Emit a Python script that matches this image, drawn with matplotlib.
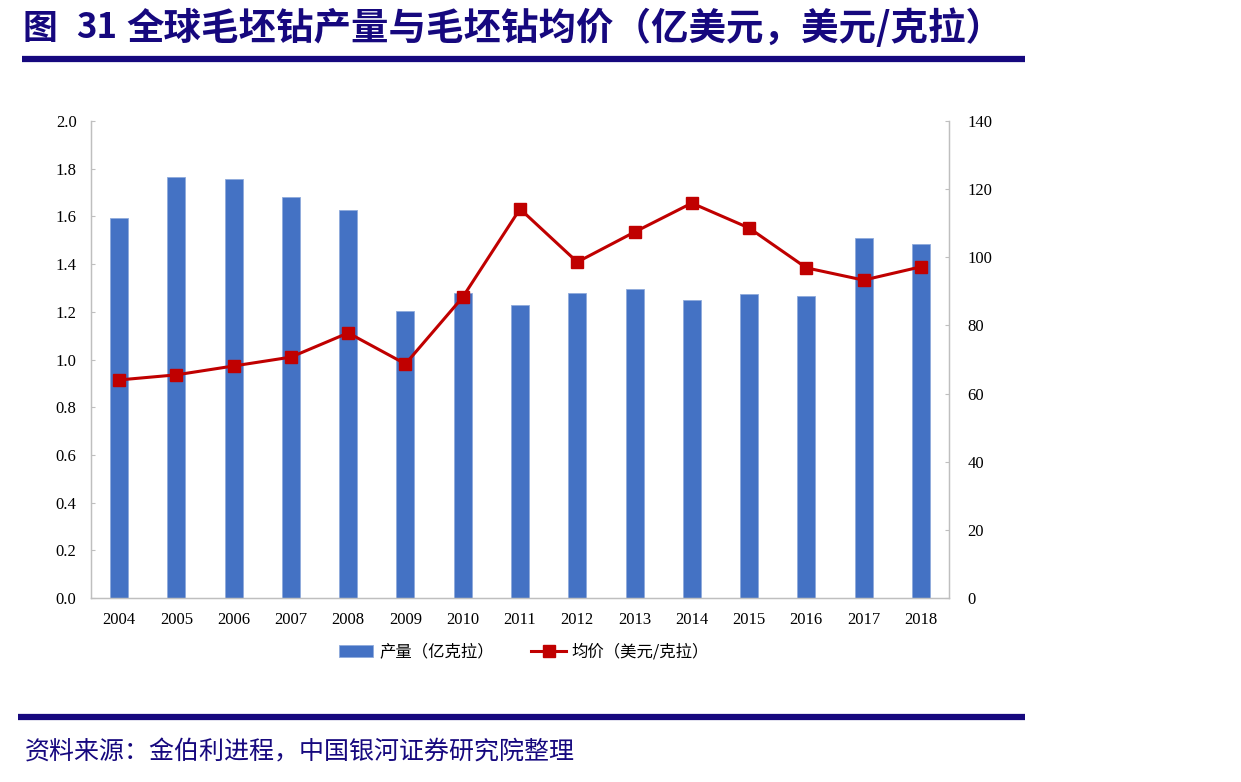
import matplotlib
matplotlib.use("Agg")
import matplotlib.pyplot as plt
import numpy as np

years = ["2004", "2005", "2006", "2007", "2008", "2009", "2010", "2011",
         "2012", "2013", "2014", "2015", "2016", "2017", "2018"]
production = [1.593, 1.765, 1.757, 1.681, 1.627, 1.203, 1.279, 1.228,
              1.279, 1.296, 1.249, 1.275, 1.266, 1.509, 1.484]
price = [64.0, 65.5, 68.1, 70.7, 77.8, 68.7, 88.3, 114.2,
         98.6, 107.4, 115.9, 108.6, 96.9, 93.3, 97.2]
left_ticks = [0.0, 0.2, 0.4, 0.6, 0.8, 1.0, 1.2, 1.4, 1.6, 1.8, 2.0]
right_ticks = [0, 20, 40, 60, 80, 100, 120, 140]

title_prefix = "图"
title_number = "31"
title_main = "全球毛坯钻产量与毛坯钻均价（亿美元，美元/克拉）"
source = "资料来源：金伯利进程，中国银河证券研究院整理"
label_bar = "产量（亿克拉）"
label_line = "均价（美元/克拉）"

CJK = ["Noto Sans CJK SC", "DejaVu Sans"]
SERIF = ["Liberation Serif", "DejaVu Serif"]
NAVY = "#16087e"
BLUE = "#4472c4"
RED = "#c00000"
GRAY = "#bfbfbf"

W, H = 1241, 782
fig = plt.figure(figsize=(W / 100, H / 100), dpi=100)

def fx(px):
    return px / W

def fy(py):
    return 1 - py / H

# Title and rules
tkw = dict(family=CJK, fontweight="bold", color=NAVY, va="center", ha="left")
fig.text(fx(22), fy(28), title_prefix, fontsize=25, **tkw)
fig.text(fx(76), fy(28), title_number, fontsize=25, **tkw)
fig.text(fx(126), fy(28), title_main, fontsize=27, **tkw)
fig.add_artist(plt.Line2D([fx(22), fx(1025)], [fy(59), fy(59)], color=NAVY, lw=4.5,
                          solid_capstyle="butt"))
fig.add_artist(plt.Line2D([fx(18), fx(1025)], [fy(717), fy(717)], color=NAVY, lw=4.5,
                          solid_capstyle="butt"))
fig.text(fx(25), fy(752), source, family=CJK, fontsize=18, style="italic",
         color=NAVY, va="center", ha="left")

# Axes
left, right, top, bottom = 90.5, 949.5, 121, 598
ax = fig.add_axes([fx(left), fy(bottom), fx(right - left), (bottom - top) / H])
x = np.arange(len(years))
bars = ax.bar(x, production, width=0.315, color=BLUE, edgecolor="#8faadc",
              linewidth=0.6, label=label_bar, zorder=2)
ax.set_xlim(-0.5, len(years) - 0.5)
ax.set_ylim(0, 2.0)
ax.set_yticks(left_ticks)
ax.set_yticklabels([f"{t:.1f}" for t in left_ticks], family=SERIF, fontsize=12)
ax.set_xticks(x)
ax.set_xticklabels(years, family=SERIF, fontsize=12)
ax.tick_params(axis="x", length=0, pad=10)
ax.tick_params(axis="y", direction="in", length=3, color=GRAY, pad=10)
ax.spines["top"].set_visible(False)
for s in ["left", "right", "bottom"]:
    ax.spines[s].set_color(GRAY)
    ax.spines[s].set_linewidth(1.0)

ax2 = ax.twinx()
line, = ax2.plot(x, price, color=RED, lw=2.2, marker="s", markersize=8,
                 markerfacecolor=RED, markeredgecolor=RED, label=label_line, zorder=3)
ax2.set_ylim(0, 140)
ax2.set_yticks(right_ticks)
ax2.set_yticklabels([str(t) for t in right_ticks], family=SERIF, fontsize=12)
ax2.tick_params(axis="y", direction="in", length=3, color=GRAY, pad=13)
ax2.spines["top"].set_visible(False)
for s in ["left", "right", "bottom"]:
    ax2.spines[s].set_color(GRAY)

leg = fig.legend([bars, line], [label_bar, label_line],
                 loc="center", bbox_to_anchor=(fx(524), fy(652)), ncol=2,
                 frameon=False, prop={"family": CJK, "size": 11.8},
                 handlelength=2.1, columnspacing=2.3, handletextpad=0.35)

fig.savefig("out.png", dpi=100)
